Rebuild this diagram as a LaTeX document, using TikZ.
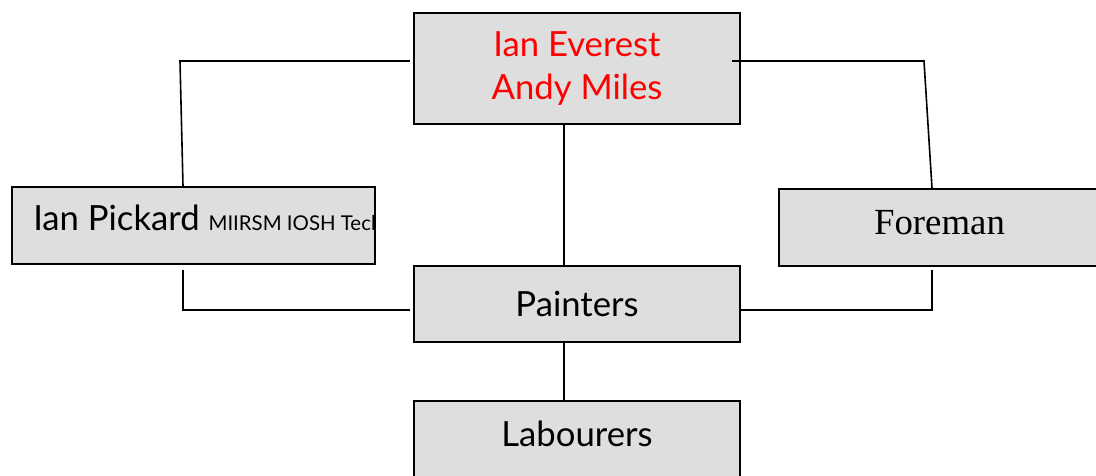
\documentclass[tikz,border=0pt]{standalone}
\usepackage{fontspec}
\setmainfont{Lato}
\newfontfamily\serifface{Liberation Serif}
\usetikzlibrary{calc}
\definecolor{boxgray}{HTML}{DEDEDE}
\definecolor{namered}{HTML}{FF0000}
\tikzset{
  box/.style={draw, rectangle, line width=1.4pt, fill=boxgray, inner sep=0pt},
  link/.style={line width=1.2pt, line cap=rect},
  bigtext/.style={font=\fontsize{26pt}{32pt}\selectfont},
}
\begin{document}
\begin{tikzpicture}[x=0.75pt, y=-0.75pt]
\useasboundingbox (0,0) rectangle (1096,475);
\clip (0,0) rectangle (1096,475);

% boxes
\node[box, minimum width=244.5pt, minimum height=83.25pt, align=center,
      text=namered, bigtext] (top) at (577,68.5) {Ian Everest\\Andy Miles};
\node[box, minimum width=272.25pt, minimum height=57.75pt] (pick) at (193.5,225.5) {};
\begin{scope}
  \clip (pick.south west) rectangle (pick.north east);
  \node[anchor=base west, inner sep=0pt, font=\fontsize{26pt}{32pt}\selectfont]
    (pickt) at (33,230) {Ian Pickard {\fontsize{15.3pt}{19pt}\selectfont MIIRSM IOSH Tech}};
\end{scope}
\node[box, minimum width=240.75pt, minimum height=57.75pt, text depth=7.5pt,
      font=\serifface\fontsize{27.6pt}{32pt}\selectfont] (fore) at (939.5,227.5) {Foreman};
\node[box, minimum width=244.5pt, minimum height=57pt, bigtext] (paint) at (577,304) {Painters};
\node[box, minimum width=244.5pt, minimum height=57pt, text depth=8pt, bigtext] (lab) at (577,439) {Labourers};

% corner and column coordinates of the connectors
\coordinate (lt) at (180,61);
\coordinate (lx) at (183,0);
\coordinate (lb) at (183,310);
\coordinate (rt) at (924,61);
\coordinate (rx) at (932,0);
\coordinate (rb) at (932,310);
\coordinate (cx) at (564,0);

% connectors
\draw[link] ($(top.west |- lt)+(-4,0)$) -- (lt) -- (lx |- pick.north);
\draw[link] ($(top.east |- rt)+(-8,0)$) -- (rt) -- (rx |- fore.north);
\draw[link] (cx |- top.south) -- (cx |- paint.north);
\draw[link] ($(lx |- pick.south)+(0,6)$) -- (lb) -- ($(paint.west |- lb)+(-4,0)$);
\draw[link] ($(rx |- fore.south)+(0,4)$) -- (rb) -- (paint.east |- rb);
\draw[link] (cx |- paint.south) -- (cx |- lab.north);
\end{tikzpicture}
\end{document}
